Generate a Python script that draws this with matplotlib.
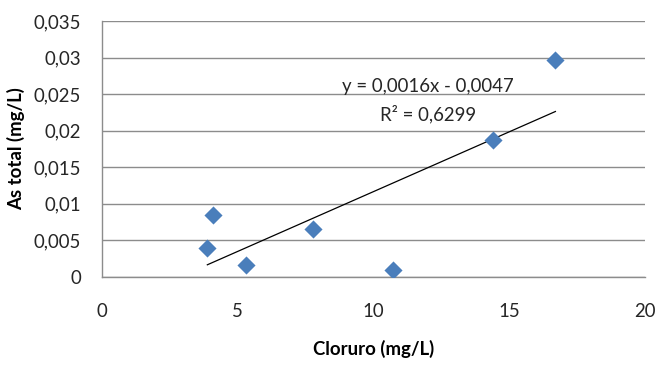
import matplotlib

matplotlib.use("Agg")

import matplotlib.pyplot as plt
import numpy as np
from matplotlib.ticker import FuncFormatter

# Datos
cloruro = [3.88, 4.1, 5.3, 7.78, 10.73, 14.4, 16.7]
as_total = [0.0040, 0.0085, 0.0016, 0.0066, 0.0010, 0.0187, 0.0297]
x_ticks = [0, 5, 10, 15, 20]
y_ticks = [0, 0.005, 0.01, 0.015, 0.02, 0.025, 0.03, 0.035]
eq_label = "y = 0,0016x - 0,0047"
r2_label = "R² = 0,6299"

BLUE = "#4A7EBB"
GRID = "#8C8C8C"
TXT = "#262626"
FS = 13.4

plt.rcParams["font.family"] = ["Lato", "DejaVu Sans"]

fig = plt.figure(figsize=(6.57, 3.65), dpi=100)
ax = fig.add_axes([102 / 657, 1 - 277 / 365, 543 / 657, 256 / 365])

ax.scatter(cloruro, as_total, marker="D", s=85, color=BLUE, zorder=3, linewidths=0)

# Línea de tendencia lineal
slope, intercept = np.polyfit(cloruro, as_total, 1)
xs = np.array([min(cloruro), max(cloruro)])
ax.plot(xs, slope * xs + intercept, color="black", linewidth=0.9, zorder=2)

ax.text(12.0, 0.0260, eq_label, ha="center", va="center", fontsize=FS, color=TXT)
ax.text(12.0, 0.0223, r2_label, ha="center", va="center", fontsize=FS, color=TXT)

ax.set_xlim(0, 20)
ax.set_ylim(0, 0.035)
ax.set_xticks(x_ticks)
ax.set_yticks(y_ticks)


def coma(v, _pos):
    s = f"{v:.3f}".rstrip("0").rstrip(".")
    return s.replace(".", ",")


ax.yaxis.set_major_formatter(FuncFormatter(coma))
ax.xaxis.set_major_formatter(FuncFormatter(coma))

ax.grid(axis="y", color=GRID, linewidth=1.0)
ax.set_axisbelow(True)
for side in ("top", "right"):
    ax.spines[side].set_visible(False)
for side in ("left", "bottom"):
    ax.spines[side].set_color(GRID)
    ax.spines[side].set_linewidth(1.0)

ax.tick_params(axis="both", length=0, labelsize=FS, colors=TXT)
ax.tick_params(axis="y", pad=15)
ax.tick_params(axis="x", pad=19)

ax.set_xlabel("Cloruro (mg/L)", fontsize=FS, fontweight="bold", color="black", labelpad=14)
ax.set_ylabel("As total (mg/L)", fontsize=FS, fontweight="bold", color="black", labelpad=6)

fig.savefig("out.png", dpi=100, facecolor="white")
